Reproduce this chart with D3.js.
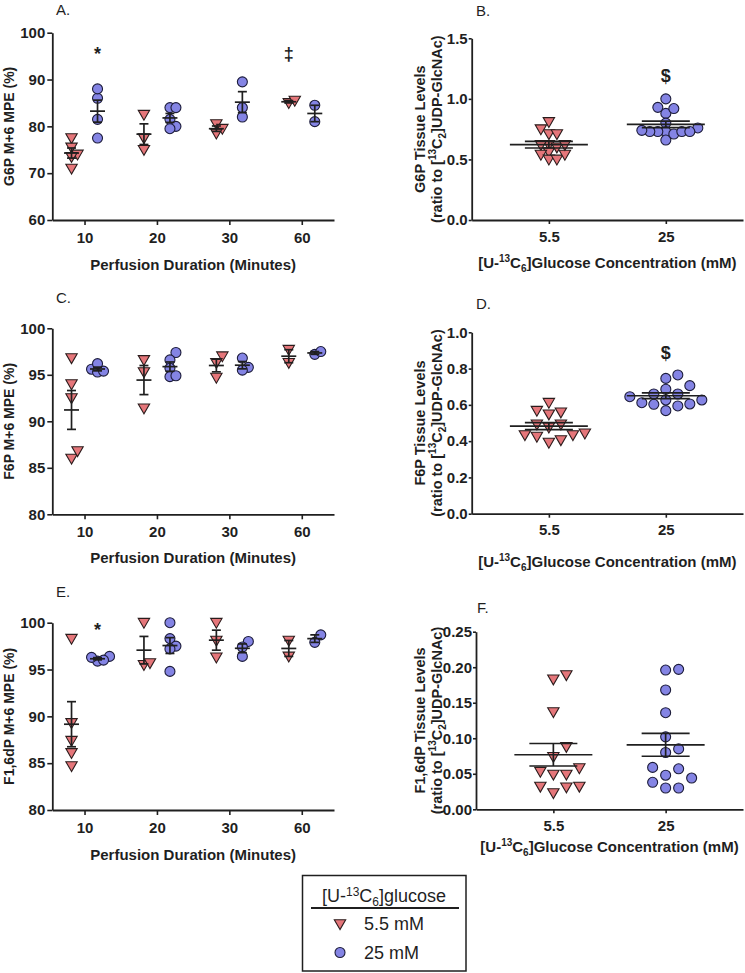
<!DOCTYPE html>
<html>
<head>
<meta charset="utf-8">
<script src="https://cdn.jsdelivr.net/npm/d3@7"></script>
<style>
  body { margin: 0; background: #fff; }
  svg text { font-family: "Liberation Sans", Arial, sans-serif; fill: #1f1f1f; }
</style>
</head>
<body>
<script>
const durations = ['10', '20', '30', '60'];
const concentrations = ['5.5', '25'];

// A/C/E: M+6 MPE (%) per perfusion duration, 5.5 mM (low) and 25 mM (high)
const g6pMpeLow = [[77.5, 75.5, 71, 74, 73.5], [82.5, 75, 77.5], [80.5, 79.5, 78.5], [85, 85.5]];
const g6pMpeHigh = [[86, 88, 81.5, 77.5], [84, 84, 81.5, 80, 79.5], [89.5, 84, 82], [84.5, 81]];
const f6pMpeLow = [[96.8, 94, 92.5, 86, 86.8], [96.6, 95.3, 91.4], [97, 96.3, 94.7], [96.3, 97.7]];
const f6pMpeHigh = [[95.6, 95.3, 95.4, 96.2], [97.4, 96.6, 95.7, 94.8, 94.9], [96.8, 95.8, 95.5], [97.2, 97.5]];
const f16dpMpeLow = [[98.3, 89.3, 87.4, 86.1, 84.7], [100, 95.5, 95.7], [100, 98.1, 96.3], [98.1, 96.4]];
const f16dpMpeHigh = [[96.4, 95.9, 96.0, 96.3], [100, 98.3, 97.5, 97.2, 94.8], [98.0, 97.4, 96.4], [97.9, 98.7]];

// B/D/F: tissue levels (ratio to [13C2]UDP-GlcNAc)
const g6pTissueLow = [0.81, 0.71, 0.71, 0.75, 0.62, 0.62, 0.56, 0.54, 0.50, 0.50, 0.54, 0.60, 0.62];
const g6pTissueHigh = [1.0, 0.88, 0.92, 0.93, 0.80, 0.76, 0.73, 0.73, 0.71, 0.66, 0.73, 0.73, 0.73, 0.74];
const f6pTissueLow = [0.434, 0.425, 0.568, 0.548, 0.559, 0.612, 0.493, 0.476, 0.493, 0.392, 0.406, 0.434, 0.443];
const f6pTissueHigh = [0.686, 0.746, 0.765, 0.706, 0.66, 0.645, 0.66, 0.627, 0.612, 0.603, 0.568, 0.594, 0.605, 0.627];
const f16dpTissueLow = [0.183, 0.189, 0.137, 0.088, 0.074, 0.058, 0.049, 0.049, 0.053, 0.032, 0.023, 0.031, 0.032];
const f16dpTissueHigh = [0.196, 0.197, 0.168, 0.136, 0.102, 0.080, 0.085, 0.059, 0.057, 0.048, 0.038, 0.030, 0.030, 0.044];

// significance marks: [category, group (0 low / 1 high), y value, symbol]
const g6pMpeMarks = [['10', 1, 95.6, '*'], ['60', 0, 95.6, '‡']];
const f16dpMpeMarks = [['10', 1, 99.2, '*']];
const g6pTissueMarks = [['25', 1, 1.19, '$']];
const f6pTissueMarks = [['25', 1, 0.885, '$']];

const legendTitle = [['[U-'], ['13', 'sup'], ['C'], ['6', 'sub'], [']glucose']];
const legendItems = ['5.5 mM', '25 mM'];
const concTitle = [['[U-'], ['13', 'sup'], ['C'], ['6', 'sub'], [']Glucose Concentration (mM)']];
const ratioTitle = [['(ratio to ['], ['13', 'sup'], ['C'], ['2', 'sub'], [']UDP-GlcNAc)']];

const lowFill = '#e5767a', highFill = '#8484e4', ink = '#1f1f1f';
const font = '"Liberation Sans", Arial, sans-serif';

const svg = d3.select('body').append('svg')
    .attr('width', 745)
    .attr('height', 973);

// text with superscript / subscript pieces
function rich(text, parts, small) {
    parts.forEach(function(p, i) {
        const t = text.append('tspan').text(p[0]);
        if (p[1] === 'sup') t.attr('font-size', small).attr('dy', -6);
        else if (p[1] === 'sub') t.attr('font-size', small).attr('dy', 4);
        const prev = parts[i - 1];
        if (prev && prev[1] === 'sup') t.attr('dy', 6);
        if (prev && prev[1] === 'sub') t.attr('dy', -4);
    });
    return text;
}

// column scatter: push points sideways while they sit in the same box
function dodge(values, y, wx, hy) {
    const order = d3.range(values.length).sort((a, b) => values[a] - values[b]);
    const placed = [];
    const offs = [];
    for (const i of order) {
        const py = y(values[i]);
        for (let k = 0; ; k++) {
            const dx = k === 0 ? 0 : (k % 2 ? 1 : -1) * Math.ceil(k / 2) * wx;
            if (placed.every(p => Math.abs(p.x - dx) >= wx - 0.01 || Math.abs(p.y - py) >= hy)) {
                placed.push({x: dx, y: py});
                offs[i] = dx;
                break;
            }
        }
    }
    return offs;
}

const triangle = d3.symbol().type(d3.symbolTriangle).size(56)();

function drawPoints(g, values, cx, y, group, wx, hy) {
    const offs = dodge(values, y, wx, hy);
    values.forEach(function(v, i) {
        if (group === 0) {
            g.append('path')
                .attr('d', triangle)
                .attr('transform', `translate(${cx + offs[i]},${y(v) - 1}) rotate(180)`)
                .attr('fill', lowFill)
                .attr('stroke', '#2a1c1c')
                .attr('stroke-width', 1.1);
        } else {
            g.append('circle')
                .attr('cx', cx + offs[i])
                .attr('cy', y(v))
                .attr('r', 5)
                .attr('fill', highFill)
                .attr('stroke', '#1c1c3a')
                .attr('stroke-width', 1.1);
        }
    });
}

function errorBar(g, values, cx, y, meanW, capW) {
    const m = d3.mean(values);
    const sem = d3.deviation(values) / Math.sqrt(values.length);
    const lines = [
        [cx - meanW, m, cx + meanW, m],
        [cx, m - sem, cx, m + sem],
        [cx - capW, m - sem, cx + capW, m - sem],
        [cx - capW, m + sem, cx + capW, m + sem]
    ];
    lines.forEach(function(l) {
        g.append('line')
            .attr('x1', l[0]).attr('y1', y(l[1]))
            .attr('x2', l[2]).attr('y2', y(l[3]))
            .attr('stroke', ink)
            .attr('stroke-width', 1.7);
    });
}

function styleAxis(a) {
    a.select('.domain').attr('stroke', ink).attr('stroke-width', 1.8);
    a.selectAll('.tick line').attr('stroke', ink).attr('stroke-width', 1.6);
    a.selectAll('.tick text')
        .attr('fill', ink)
        .style('font-family', font)
        .style('font-size', '15px')
        .style('font-weight', 'bold');
}

function drawPanel(p) {
    const g = svg.append('g');
    const x = d3.scalePoint().domain(p.categories).range(p.xRange).padding(p.xPad);
    const y = d3.scaleLinear().domain(p.yDomain).range(p.yRange);

    const ax = g.append('g')
        .attr('transform', `translate(0,${p.yRange[0]})`)
        .call(d3.axisBottom(x).tickSize(p.xTick).tickSizeOuter(0).tickPadding(7));
    styleAxis(ax);
    const ay = g.append('g')
        .attr('transform', `translate(${p.xRange[0]},0)`)
        .call(d3.axisLeft(y).tickValues(p.yTicks).tickFormat(d3.format(p.yFormat))
            .tickSize(p.yTick).tickSizeOuter(0).tickPadding(p.yPad));
    styleAxis(ay);

    // panel letter
    g.append('text')
        .attr('x', p.letterPos[0]).attr('y', p.letterPos[1])
        .style('font-size', '15px')
        .text(p.letter);

    // x title
    const xt = g.append('text')
        .attr('x', (p.xRange[0] + p.xRange[1]) / 2)
        .attr('y', p.xTitleY)
        .attr('text-anchor', 'middle')
        .style('font-size', '15px')
        .style('font-weight', 'bold');
    if (p.xTitle) xt.text(p.xTitle); else rich(xt, concTitle, 10);

    // y title (one or two lines)
    const yc = (p.yRange[0] + p.yRange[1]) / 2;
    p.yTitle.forEach(function(line, i) {
        const t = g.append('text')
            .attr('transform', `translate(${p.yTitleX[i]},${yc}) rotate(-90)`)
            .attr('text-anchor', 'middle')
            .style('font-size', p.yTitleSize)
            .style('font-weight', 'bold');
        if (typeof line === 'string') t.text(line); else rich(t, line, 10);
    });

    // groups
    const groups = [p.low, p.high];
    p.categories.forEach(function(c, ci) {
        groups.forEach(function(data, gi) {
            const values = p.paired ? data[ci] : (ci === gi ? data : null);
            if (!values) return;
            const cx = x(c) + (p.paired ? (gi ? p.groupShift : -p.groupShift) : 0);
            drawPoints(g, values, cx, y, gi, p.wx, p.hy);
            errorBar(g, values, cx, y, p.meanW, p.capW);
        });
    });

    // significance marks
    p.marks.forEach(function(m) {
        const cx = x(m[0]) + (p.paired ? (m[1] ? p.groupShift : -p.groupShift) : 0);
        g.append('text')
            .attr('x', cx).attr('y', y(m[2]))
            .attr('dy', '0.35em')
            .attr('text-anchor', 'middle')
            .style('font-size', '18px')
            .style('font-weight', 'bold')
            .text(m[3]);
    });
}

const timePanel = {
    categories: durations, paired: true, xRange: [52.3, 334], xPad: 0.445,
    yFormat: 'd', groupShift: 13, wx: 6, hy: 8, meanW: 7.5, capW: 4.5,
    xTick: 5, yTick: 5, yPad: 2,
    xTitle: 'Perfusion Duration (Minutes)', yTitleX: [14], yTitleSize: '14px'
};
const concPanel = {
    categories: concentrations, paired: false, xRange: [471.7, 743], xPad: 0.66,
    wx: 8, hy: 12, meanW: 39, capW: 24, xTitle: null,
    xTick: 4, yTick: 3, yPad: 1,
    yTitleX: [425, 442], yTitleSize: '14.5px'
};

drawPanel(Object.assign({}, timePanel, {
    letter: 'A.', letterPos: [56, 15], yDomain: [60, 100], yRange: [220, 32.7],
    yTicks: [60, 70, 80, 90, 100], low: g6pMpeLow, high: g6pMpeHigh,
    xTitleY: 270, yTitle: ['G6P M+6 MPE (%)'], marks: g6pMpeMarks
}));
drawPanel(Object.assign({}, timePanel, {
    letter: 'C.', letterPos: [56, 303], yDomain: [80, 100], yRange: [514.3, 328.3],
    yTicks: [80, 85, 90, 95, 100], low: f6pMpeLow, high: f6pMpeHigh,
    xTitleY: 563, yTitle: ['F6P M+6 MPE (%)'], marks: []
}));
drawPanel(Object.assign({}, timePanel, {
    letter: 'E.', letterPos: [56, 597], yDomain: [80, 100], yRange: [810, 622.7],
    yTicks: [80, 85, 90, 95, 100], low: f16dpMpeLow, high: f16dpMpeHigh,
    xTitleY: 860, yTitle: ['F1,6dP M+6 MPE (%)'], marks: f16dpMpeMarks
}));
drawPanel(Object.assign({}, concPanel, {
    letter: 'B.', letterPos: [476, 16], yDomain: [0, 1.5], yRange: [220, 38.3],
    yTicks: [0, 0.5, 1.0, 1.5], yFormat: '.1f', low: g6pTissueLow, high: g6pTissueHigh,
    xTitleY: 268, yTitle: ['G6P Tissue Levels', ratioTitle], marks: g6pTissueMarks,
    hy: 7
}));
drawPanel(Object.assign({}, concPanel, {
    letter: 'D.', letterPos: [476, 309], yDomain: [0, 1.0], yRange: [513.7, 332.3],
    yTicks: [0, 0.2, 0.4, 0.6, 0.8, 1.0], yFormat: '.1f', low: f6pTissueLow, high: f6pTissueHigh,
    xTitleY: 567, yTitle: ['F6P Tissue Levels', ratioTitle], marks: f6pTissueMarks,
    wx: 12, hy: 10
}));
drawPanel(Object.assign({}, concPanel, {
    letter: 'F.', letterPos: [477, 613], xRange: [476, 743], xPad: 0.689,
    yDomain: [0, 0.25], yRange: [809.3, 631.7],
    yTicks: [0, 0.05, 0.10, 0.15, 0.20, 0.25], yFormat: '.2f', low: f16dpTissueLow, high: f16dpTissueHigh,
    xTitleY: 852, yTitle: ['F1,6dP Tissue Levels', ratioTitle], marks: [], wx: 13, hy: 10
}));

// legend box
const lg = svg.append('g');
lg.append('rect')
    .attr('x', 302.5).attr('y', 875.5).attr('width', 163.5).attr('height', 95.5)
    .attr('fill', 'none').attr('stroke', ink).attr('stroke-width', 1.5);
rich(lg.append('text')
    .attr('x', 384).attr('y', 902)
    .attr('text-anchor', 'middle')
    .style('font-size', '18px'), legendTitle, 12);
lg.append('line')
    .attr('x1', 311).attr('x2', 459).attr('y1', 908).attr('y2', 908)
    .attr('stroke', ink).attr('stroke-width', 2);
legendItems.forEach(function(label, i) {
    const cy = 924 + i * 28.5;
    if (i === 0) {
        lg.append('path').attr('d', triangle)
            .attr('transform', `translate(340,${cy - 1}) rotate(180)`)
            .attr('fill', lowFill).attr('stroke', '#2a1c1c').attr('stroke-width', 1.1);
    } else {
        lg.append('circle').attr('cx', 340).attr('cy', cy).attr('r', 5)
            .attr('fill', highFill).attr('stroke', '#1c1c3a').attr('stroke-width', 1.1);
    }
    lg.append('text')
        .attr('x', 364).attr('y', cy).attr('dy', '0.35em')
        .style('font-size', '18px')
        .text(label);
});
</script>
</body>
</html>
